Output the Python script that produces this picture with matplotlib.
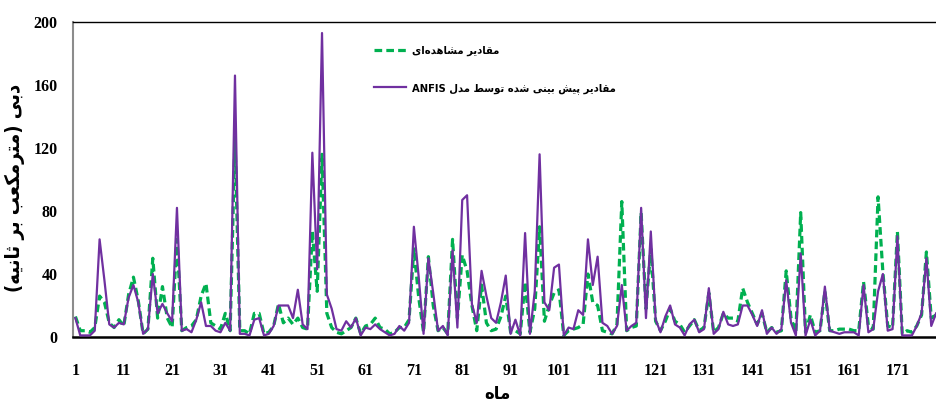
import numpy as np
import matplotlib
matplotlib.use("agg")
import matplotlib.pyplot as plt

# ---- data ----
months = list(range(1, 180))

observed = [
    13, 4, 4, 3, 6, 26, 22, 9, 6, 11,
    7, 27, 38, 23, 2, 5, 50, 12, 32, 12,
    6, 62, 4, 6, 7, 11, 26, 34, 9, 7,
    5, 15, 4, 127, 4, 4, 2, 15, 15, 2,
    3, 7, 21, 9, 12, 8, 12, 6, 5, 67,
    29, 116, 15, 6, 3, 2, 4, 6, 12, 2,
    7, 8, 12, 6, 5, 2, 3, 6, 6, 11,
    56, 25, 3, 51, 20, 4, 6, 2, 62, 12,
    52, 42, 20, 4, 33, 9, 4, 5, 13, 26,
    3, 4, 2, 35, 3, 18, 70, 10, 20, 28,
    30, 1, 4, 5, 6, 8, 40, 22, 20, 4,
    3, 2, 8, 86, 4, 6, 7, 79, 18, 56,
    10, 4, 10, 18, 10, 8, 3, 7, 11, 4,
    6, 28, 3, 6, 15, 12, 12, 10, 31, 22,
    15, 8, 15, 3, 6, 3, 4, 42, 12, 3,
    79, 3, 14, 3, 4, 29, 4, 4, 5, 5,
    5, 4, 4, 35, 7, 5, 89, 41, 7, 6,
    67, 2, 4, 3, 7, 14, 54, 12, 14,
]

predicted = [
    12, 1, 1, 1, 4, 62, 36, 8, 6, 9,
    8, 25, 33, 22, 2, 5, 40, 15, 21, 15,
    10, 82, 4, 5, 3, 11, 22, 7, 7, 4,
    3, 9, 4, 166, 2, 2, 1, 11, 12, 1,
    2, 7, 20, 20, 20, 12, 30, 8, 5, 117,
    43, 193, 27, 18, 5, 4, 10, 6, 12, 1,
    6, 5, 8, 5, 3, 1, 2, 7, 4, 9,
    70, 38, 2, 50, 28, 4, 7, 1, 55, 6,
    87, 90, 21, 9, 42, 26, 12, 9, 22, 39,
    2, 11, 1, 66, 2, 29, 116, 22, 17, 44,
    46, 1, 6, 5, 17, 14, 62, 33, 51, 9,
    7, 2, 7, 33, 4, 7, 9, 82, 12, 67,
    11, 3, 13, 20, 8, 6, 1, 8, 11, 3,
    5, 31, 2, 5, 16, 8, 7, 8, 20, 20,
    14, 7, 17, 2, 6, 2, 5, 36, 9, 1,
    53, 1, 11, 1, 4, 32, 4, 3, 2, 3,
    3, 3, 1, 33, 3, 5, 29, 40, 4, 5,
    64, 1, 1, 1, 7, 15, 50, 7, 15,
]

x_ticks = list(range(1, 172, 10))
y_ticks = [0, 40, 80, 120, 160, 200]

label_obs = "مقادیر مشاهده\u200cای"
label_pred = "مقادیر پیش بینی شده توسط مدل ANFIS"
y_title = "دبی (مترمکعب بر ثانیه)"
x_title = "ماه"


# matplotlib 3.10 does no Arabic shaping / bidi, so do a small one by hand
FORMS = {  # iso, fin, ini, med  (None => right-joining only)
    "\u0627": (0xFE8D, 0xFE8E, None, None),
    "\u062F": (0xFEA9, 0xFEAA, None, None),
    "\u0631": (0xFEAD, 0xFEAE, None, None),
    "\u0648": (0xFEED, 0xFEEE, None, None),
    "\u0628": (0xFE8F, 0xFE90, 0xFE91, 0xFE92),
    "\u067E": (0xFB56, 0xFB57, 0xFB58, 0xFB59),
    "\u062A": (0xFE95, 0xFE96, 0xFE97, 0xFE98),
    "\u062B": (0xFE99, 0xFE9A, 0xFE9B, 0xFE9C),
    "\u0633": (0xFEB1, 0xFEB2, 0xFEB3, 0xFEB4),
    "\u0634": (0xFEB5, 0xFEB6, 0xFEB7, 0xFEB8),
    "\u0637": (0xFEC1, 0xFEC2, 0xFEC3, 0xFEC4),
    "\u0639": (0xFEC9, 0xFECA, 0xFECB, 0xFECC),
    "\u0642": (0xFED5, 0xFED6, 0xFED7, 0xFED8),
    "\u06A9": (0xFB8E, 0xFB8F, 0xFB90, 0xFB91),
    "\u0644": (0xFEDD, 0xFEDE, 0xFEDF, 0xFEE0),
    "\u0645": (0xFEE1, 0xFEE2, 0xFEE3, 0xFEE4),
    "\u0646": (0xFEE5, 0xFEE6, 0xFEE7, 0xFEE8),
    "\u0647": (0xFEE9, 0xFEEA, 0xFEEB, 0xFEEC),
    "\u06CC": (0xFBFC, 0xFBFD, 0xFBFE, 0xFBFF),
}


def _joins_forward(c):
    return c in FORMS and FORMS[c][2] is not None


def rtl(s):
    out = []
    for k, c in enumerate(s):
        if c not in FORMS:
            out.append(c)
            continue
        prev_j = k > 0 and _joins_forward(s[k - 1])
        next_j = _joins_forward(c) and k + 1 < len(s) and s[k + 1] in FORMS
        iso, fin, ini, med = FORMS[c]
        if prev_j and next_j:
            cp = med
        elif prev_j:
            cp = fin
        elif next_j:
            cp = ini
        else:
            cp = iso
        out.append(chr(cp))
    shaped = "".join(out).replace("\u200c", "")

    # split into latin / non-latin runs, lay them out right-to-left
    runs, cur, cur_latin = [], "", None
    for c in shaped:
        is_latin = c.isascii() and c.isalnum()
        if cur and is_latin != cur_latin and not c.isspace():
            runs.append((cur, cur_latin))
            cur = ""
        if not cur:
            cur_latin = is_latin
        cur += c
    runs.append((cur, cur_latin))
    mirror = {"(": ")", ")": "("}
    vis = []
    for txt, latin in reversed(runs):
        if latin:
            vis.append(txt)
        else:
            vis.append("".join(mirror.get(c, c) for c in reversed(txt)))
    return "".join(vis)


GREEN = "#00B050"
PURPLE = "#7030A0"

fig = plt.figure(figsize=(9.37, 4.04), dpi=100)
W, H = 937, 404
ax = fig.add_axes([73 / W, 67 / H, (938.5 - 73) / W, 315 / H])

ax.plot(months, observed, color=GREEN, lw=2.3, dashes=(2.4, 1.3),
        label=rtl(label_obs), zorder=2)
ax.plot(months, predicted, color=PURPLE, lw=1.6,
        label=rtl(label_pred), zorder=3)

ax.set_xlim(0.5, 179.5)
ax.set_ylim(0, 200)
ax.set_xticks(x_ticks)
ax.set_yticks(y_ticks)
ax.tick_params(length=0)
ax.tick_params(axis="y", pad=11)
ax.tick_params(axis="x", pad=19)
for lab in ax.get_xticklabels() + ax.get_yticklabels():
    lab.set_fontfamily("Liberation Serif")
    lab.set_fontweight("bold")
    lab.set_fontsize(11.5)

ax.spines["right"].set_visible(False)
ax.spines["left"].set_color("#8c8c8c")
ax.spines["left"].set_linewidth(1.5)
ax.spines["bottom"].set_color("black")
ax.spines["bottom"].set_linewidth(1.8)
ax.spines["top"].set_color("black")
ax.spines["top"].set_linewidth(1.0)

fig.text(15 / W, 1 - 188 / H, rtl(y_title), rotation=90, ha="center", va="center",
         fontsize=14.5, fontweight="bold", fontstretch="condensed",
         family=["DejaVu Sans"])
fig.text(497 / W, 1 - 394 / H, rtl(x_title), ha="center", va="center",
         fontsize=12, fontweight="bold", family=["DejaVu Sans"])

leg = ax.legend(loc="upper left", bbox_to_anchor=(364 / W, 1 - 36 / H),
                bbox_transform=fig.transFigure, frameon=False,
                handlelength=2.9, handletextpad=0.5, labelspacing=2.4,
                prop={"family": "DejaVu Sans", "weight": "bold", "size": 8,
                      "stretch": "condensed"})

fig.savefig("out.png", dpi=100)
